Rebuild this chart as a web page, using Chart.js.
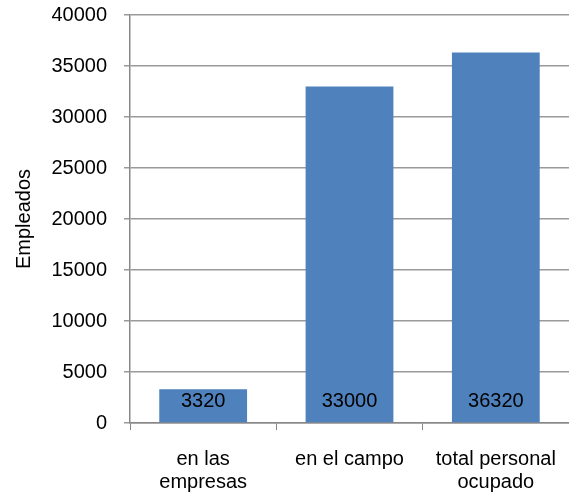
<!DOCTYPE html>
<html>
<head>
<meta charset="utf-8">
<script src="https://cdn.jsdelivr.net/npm/chart.js@4/dist/chart.umd.min.js"></script>
<style>
  html, body { margin: 0; padding: 0; background: #fff; }
  #wrap { width: 569px; height: 492px; }
</style>
</head>
<body>
<div id="wrap"><canvas id="myChart" width="569" height="492"></canvas></div>
<script>
var categories = [['en las', 'empresas'], 'en el campo', ['total personal', 'ocupado']];
var empleados = [3320, 33000, 36320];
var yTicks = [0, 5000, 10000, 15000, 20000, 25000, 30000, 35000, 40000];

var FONT = '"Liberation Sans", Arial, sans-serif';

// numbers written at the foot of each bar
var barLabels = {
  id: 'barLabels',
  afterDatasetsDraw: function(chart) {
    var c = chart.ctx;
    var base = chart.scales.y.getPixelForValue(0);
    c.save();
    c.font = '20px ' + FONT;
    c.fillStyle = '#000';
    c.textAlign = 'center';
    c.textBaseline = 'middle';
    chart.getDatasetMeta(0).data.forEach(function(bar, i) {
      c.fillText(String(empleados[i]), bar.x, base - 22);
    });
    c.restore();
  }
};

var ctx = document.getElementById('myChart');
new Chart(ctx, {
  type: 'bar',
  data: {
    labels: categories,
    datasets: [{
      data: empleados,
      backgroundColor: '#4F81BD',
      borderWidth: 0,
      categoryPercentage: 0.6,
      barPercentage: 1
    }]
  },
  options: {
    responsive: false,
    animation: false,
    layout: { padding: { top: 15, right: 0, left: 0, bottom: 0 } },
    plugins: { legend: { display: false }, tooltip: { enabled: false } },
    scales: {
      x: {
        grid: { offset: true, drawOnChartArea: false, tickLength: 7, color: '#888' },
        border: { color: '#888', width: 1.5 },
        ticks: { color: '#000', font: { size: 20, family: FONT, lineHeight: 1.15 }, padding: 18 },
        afterFit: function(s) { s.height = 69; s.paddingLeft = 0; s.paddingRight = 0; }
      },
      y: {
        min: 0, max: 40000,
        afterBuildTicks: function(s) { s.ticks = yTicks.map(function(v) { return { value: v }; }); },
        grid: { color: '#9a9a9a', lineWidth: 1.5, tickLength: 6 },
        border: { color: '#888', width: 1.5 },
        ticks: {
          color: '#000', font: { size: 20, family: FONT }, padding: 17,
          callback: function(v) { return String(v); }
        },
        title: { display: true, text: 'Empleados', color: '#000', font: { size: 20, family: FONT }, padding: { top: 12, bottom: 0 } },
        afterFit: function(s) { s.width = 130; s.paddingTop = 0; s.paddingBottom = 0; }
      }
    }
  },
  plugins: [barLabels]
});
</script>
</body>
</html>
